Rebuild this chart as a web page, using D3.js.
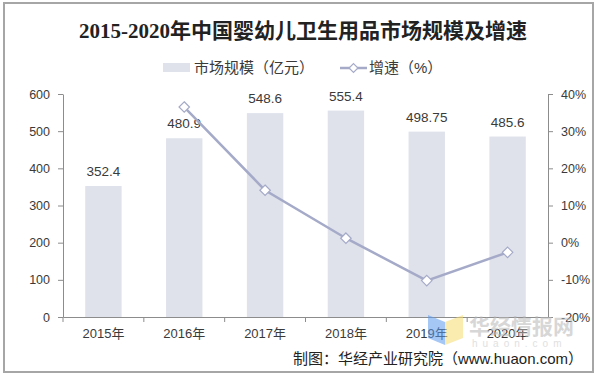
<!DOCTYPE html>
<html>
<head>
<meta charset="utf-8">
<script src="https://cdn.jsdelivr.net/npm/d3@7"></script>
<style>
  body { margin: 0; background: #fff; }
  svg { display: block; }
</style>
</head>
<body>
<svg id="chart"></svg>
<script>
// data
const years = ["2015年", "2016年", "2017年", "2018年", "2019年", "2020年"];
const marketSize = [352.4, 480.9, 548.6, 555.4, 498.75, 485.6];
const sizeLabels = ["352.4", "480.9", "548.6", "555.4", "498.75", "485.6"];
const growthYears = ["2016年", "2017年", "2018年", "2019年", "2020年"];
const growth = [36.5, 14.1, 1.2, -10.2, -2.6];
const leftTicks = [0, 100, 200, 300, 400, 500, 600];
const rightTicks = [-20, -10, 0, 10, 20, 30, 40];

const W = 600, H = 377;
const margin = { top: 94, right: 52, bottom: 60, left: 63 },
      width = W - margin.left - margin.right,
      height = H - margin.top - margin.bottom;

const barColor = "#dfe2eb";
const lineColor = "#a5aac8";
const axisColor = "#8c8c8c";
const textColor = "#3a3a3a";
const font = "Arial, 'Liberation Sans', 'Noto Sans CJK SC', sans-serif";

const svg = d3.select("#chart")
    .attr("width", W)
    .attr("height", H);

// outer frame
svg.append("rect")
    .attr("x", 4).attr("y", 3)
    .attr("width", 589).attr("height", 369)
    .attr("fill", "#fff")
    .attr("stroke", "#a6a6a6")
    .attr("stroke-width", 2);

const g = svg.append("g")
    .attr("transform", `translate(${margin.left},${margin.top})`);

const x = d3.scaleBand()
    .domain(years)
    .range([0, width])
    .paddingInner(0.55)
    .paddingOuter(0.275);

const y = d3.scaleLinear().domain([0, 600]).range([height, 0]);
const y2 = d3.scaleLinear().domain([-20, 40]).range([height, 0]);

// bars
g.selectAll(".bar")
    .data(years)
    .enter().append("rect")
    .attr("class", "bar")
    .attr("x", d => x(d))
    .attr("y", (d, i) => y(marketSize[i]))
    .attr("width", x.bandwidth())
    .attr("height", (d, i) => height - y(marketSize[i]))
    .attr("fill", barColor);

// bar value labels
g.selectAll(".val")
    .data(years)
    .enter().append("text")
    .attr("class", "val")
    .attr("x", d => x(d) + x.bandwidth() / 2)
    .attr("y", (d, i) => y(marketSize[i]) - 10)
    .attr("text-anchor", "middle")
    .style("font-family", font)
    .style("font-size", "13.5px")
    .style("fill", textColor)
    .text((d, i) => sizeLabels[i]);

// axes
const styleAxis = sel => {
    sel.selectAll("path, line").attr("stroke", axisColor);
    sel.selectAll("text")
        .style("font-family", font)
        .style("font-size", "12.5px")
        .style("fill", textColor);
};

g.append("g")
    .call(d3.axisLeft(y).tickValues(leftTicks).tickSize(5).tickSizeOuter(0).tickPadding(8))
    .call(styleAxis);

g.append("g")
    .attr("transform", `translate(${width},0)`)
    .call(d3.axisRight(y2).tickValues(rightTicks).tickSize(5).tickSizeOuter(0).tickPadding(8)
        .tickFormat(d => d + "%"))
    .call(styleAxis);

const xAxis = g.append("g")
    .attr("transform", `translate(0,${height})`)
    .call(d3.axisBottom(x).tickSize(0).tickSizeOuter(0).tickPadding(12))
    .call(styleAxis);
xAxis.selectAll("text").style("font-size", "13px");

// small ticks at category boundaries
const bounds = years.map(d => x(d) - x.step() * x.paddingInner() / 2);
bounds[0] = 0;
xAxis.selectAll(".sep")
    .data(bounds)
    .enter().append("line")
    .attr("class", "sep")
    .attr("x1", d => d)
    .attr("x2", d => d)
    .attr("y1", 0).attr("y2", 5)
    .attr("stroke", axisColor);

// growth line
const cx = d => x(d) + x.bandwidth() / 2;
const line = d3.line()
    .x((d, i) => cx(growthYears[i]))
    .y(d => y2(d));

g.append("path")
    .datum(growth)
    .attr("d", line)
    .attr("fill", "none")
    .attr("stroke", lineColor)
    .attr("stroke-width", 2.5);

const diamond = d3.symbol().type(d3.symbolDiamond2).size(70);
g.selectAll(".pt")
    .data(growth)
    .enter().append("path")
    .attr("class", "pt")
    .attr("d", diamond)
    .attr("transform", (d, i) => `translate(${cx(growthYears[i])},${y2(d)})`)
    .attr("fill", "#fff")
    .attr("stroke", lineColor)
    .attr("stroke-width", 1.2);

// title
svg.append("text")
    .attr("x", 303)
    .attr("y", 38)
    .attr("text-anchor", "middle")
    .style("font-family", "'Liberation Serif', 'Noto Sans CJK SC', serif")
    .style("font-weight", "bold")
    .style("font-size", "21px")
    .style("fill", "#222")
    .text("2015-2020年中国婴幼儿卫生用品市场规模及增速");

// legend
const legend = svg.append("g").attr("transform", "translate(163,68)");
legend.append("rect")
    .attr("x", 0).attr("y", -5)
    .attr("width", 27).attr("height", 9)
    .attr("fill", barColor);
legend.append("text")
    .attr("x", 31).attr("y", 5)
    .style("font-family", font)
    .style("font-size", "15px")
    .style("fill", textColor)
    .text("市场规模（亿元）");
legend.append("line")
    .attr("x1", 177).attr("x2", 204)
    .attr("y1", 0).attr("y2", 0)
    .attr("stroke", lineColor)
    .attr("stroke-width", 2.5);
legend.append("path")
    .attr("d", d3.symbol().type(d3.symbolDiamond2).size(50))
    .attr("transform", "translate(190.5,0)")
    .attr("fill", "#fff")
    .attr("stroke", lineColor)
    .attr("stroke-width", 1.2);
legend.append("text")
    .attr("x", 206).attr("y", 5)
    .style("font-family", font)
    .style("font-size", "15px")
    .style("fill", textColor)
    .text("增速（%）");

// watermark
const wm = svg.append("g").attr("opacity", 0.55);
wm.append("path")
    .attr("d", "M428,315 L445,322 L445,345 L428,338 Z")
    .attr("fill", "#5b9bef");
wm.append("path")
    .attr("d", "M445,322 L463,315 L463,338 L445,345 Z")
    .attr("fill", "#f7dc6f");
wm.append("text")
    .attr("x", 469).attr("y", 334)
    .style("font-family", "'Noto Sans CJK SC', sans-serif")
    .style("font-weight", "bold")
    .style("font-size", "21px")
    .style("fill", "#b8b8b8")
    .text("华经情报网");
wm.append("text")
    .attr("x", 472).attr("y", 347)
    .style("font-family", font)
    .style("font-size", "10px")
    .style("letter-spacing", "5px")
    .style("fill", "#c8c8c8")
    .text("huaon.com");

// source
svg.append("text")
    .attr("x", 583)
    .attr("y", 364)
    .attr("text-anchor", "end")
    .style("font-family", font)
    .style("font-size", "15px")
    .style("fill", "#222")
    .text("制图：华经产业研究院（www.huaon.com）");
</script>
</body>
</html>
